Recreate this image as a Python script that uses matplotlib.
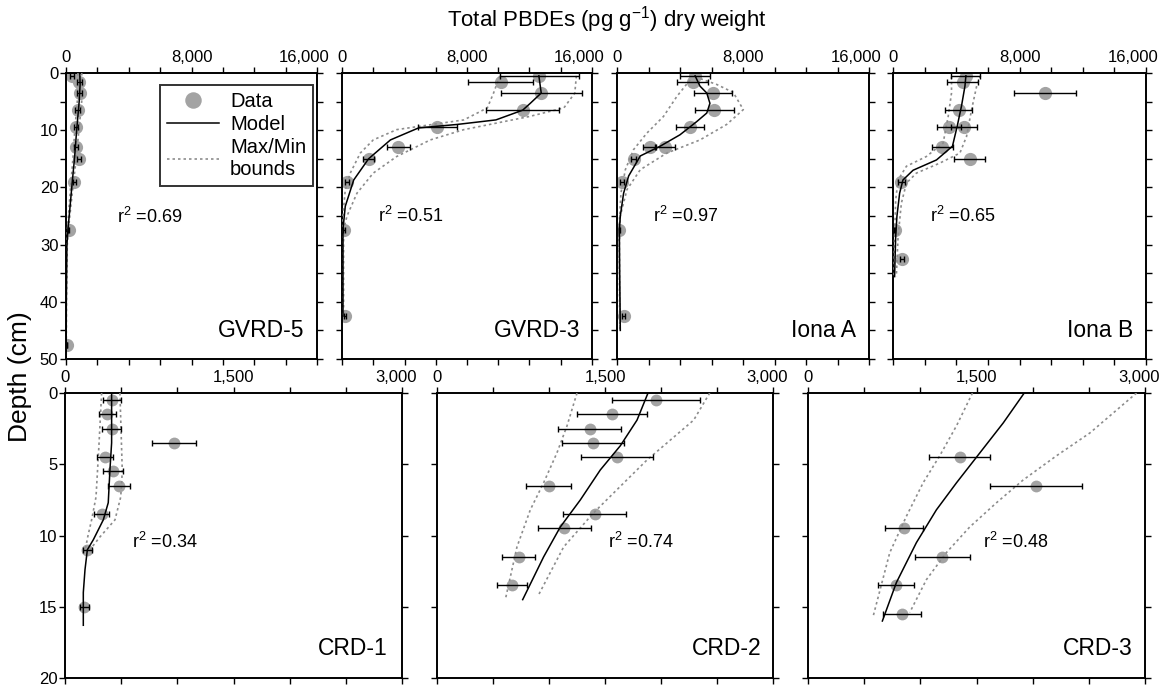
import matplotlib
matplotlib.use("Agg")
import matplotlib.pyplot as plt
from matplotlib.ticker import MultipleLocator, FuncFormatter
from matplotlib.transforms import ScaledTranslation

plt.rcParams['font.family'] = ['Liberation Sans', 'DejaVu Sans']
plt.rcParams['mathtext.fontset'] = 'custom'
plt.rcParams['mathtext.rm'] = 'Liberation Sans'
plt.rcParams['mathtext.it'] = 'Liberation Sans'

# --- data: depth (cm), total PBDEs (pg/g dw) ---
gv5_depth = [0.5, 1.5, 3.5, 6.5, 9.5, 13, 15, 19, 27.5, 47.5]
gv5_conc = [380, 850, 870, 740, 620, 620, 830, 530, 170, 60]
gv5_err = [150, 150, 150, 150, 130, 130, 130, 100, 40, 20]
gv5_mod_d = [0, 2, 5, 10, 15, 19, 23, 27.5, 30, 40, 50]
gv5_mod_c = [880, 900, 840, 680, 540, 400, 270, 120, 60, 20, 10]
gv5_up_d = [0, 2, 5, 10, 15, 19, 23, 27.5, 30, 40, 50]
gv5_up_c = [1000, 1050, 1000, 820, 650, 480, 320, 150, 80, 30, 15]
gv5_lo_d = [0, 2, 5, 10, 15, 19, 23, 27.5, 30, 40, 50]
gv5_lo_c = [760, 780, 720, 560, 440, 320, 210, 90, 40, 10, 5]

gv3_depth = [0.5, 1.5, 3.5, 6.5, 9.5, 13, 15, 19, 27.5, 42.5]
gv3_conc = [12640, 10170, 12750, 11560, 6100, 3600, 1700, 320, 100, 170]
gv3_err = [2550, 2080, 2580, 2350, 1230, 750, 340, 120, 60, 60]
gv3_mod_d = [0.5, 3.5, 5.3, 6.5, 8.2, 9.0, 9.6, 11.7, 15, 18.7, 23.3, 27.4, 42.5]
gv3_mod_c = [12600, 12750, 12050, 11560, 9850, 7350, 4900, 3100, 1700, 750, 210, 60, 60]
gv3_up_d = [0.5, 3.5, 6.1, 7.6, 9.9, 11.7, 14.6, 17.5, 21, 25, 27.4, 42.5]
gv3_up_c = [15000, 14900, 14200, 12000, 7800, 5650, 3500, 2000, 960, 320, 100, 100]
gv3_lo_d = [0.5, 3.5, 6.1, 8.2, 9.9, 11.7, 14, 17.5, 20.4, 25, 42.5]
gv3_lo_c = [10100, 9700, 9300, 7800, 3500, 2000, 1170, 530, 210, 60, 40]

iaa_depth = [0.5, 1.5, 3.5, 6.5, 9.5, 13, 13, 15, 19, 27.5, 42.5]
iaa_conc = [4960, 4810, 6120, 6180, 4640, 2070, 3060, 1050, 320, 150, 420]
iaa_err = [970, 970, 1210, 1220, 910, 420, 630, 150, 100, 50, 100]
iaa_mod_d = [0.5, 2.3, 3.5, 5.3, 7, 8.5, 10.8, 12.8, 14.5, 18, 21, 25, 27.5, 35, 45]
iaa_mod_c = [4960, 5270, 5700, 5900, 5700, 5060, 4000, 2740, 1480, 740, 420, 210, 150, 170, 210]
iaa_up_d = [1, 2, 3.4, 6.4, 9, 11.7, 14, 16.9, 20.4, 25, 30, 45]
iaa_up_c = [5300, 6330, 7380, 8020, 6960, 5270, 3160, 1480, 630, 210, 150, 200]
iaa_lo_d = [1.2, 4.1, 7.6, 10.5, 13.4, 16.9, 21, 27.5, 45]
iaa_lo_c = [4640, 3800, 2950, 1900, 1050, 530, 250, 120, 180]

iab_depth = [0.5, 1.5, 3.5, 6.5, 9.5, 9.5, 13, 15, 19, 27.5, 32.5]
iab_conc = [4610, 4400, 9620, 4160, 3550, 4500, 3130, 4860, 530, 100, 570]
iab_err = [920, 1000, 1960, 850, 740, 830, 680, 980, 200, 40, 120]
iab_mod_d = [0.5, 2.3, 5.8, 9.3, 12.8, 15.2, 17, 18.7, 21, 25, 28.6, 35.6]
iab_mod_c = [4610, 4550, 4330, 4060, 3760, 2750, 1270, 630, 420, 250, 170, 100]
iab_up_d = [0.5, 2.3, 6.4, 11.1, 14, 15.75, 17.5, 19.25, 22.75, 28.6, 35.6]
iab_up_c = [5540, 5290, 4970, 4650, 4230, 2960, 1480, 850, 530, 320, 210]
iab_lo_d = [0.6, 3.5, 7.6, 12.25, 14.6, 16.3, 18.7, 22.2, 28.6, 35.6]
iab_lo_c = [3700, 3700, 3490, 3170, 2110, 850, 320, 170, 100, 60]

crd1_depth = [0.5, 1.5, 2.5, 3.5, 4.5, 5.5, 6.5, 8.5, 11, 15]
crd1_conc = [415, 376, 415, 970, 356, 430, 483, 326, 199, 172]
crd1_err = [80, 75, 85, 197, 74, 90, 100, 67, 42, 42]
crd1_mod_d = [0, 3.5, 5.4, 7.7, 8.9, 10.3, 11, 12.4, 14, 16.3]
crd1_mod_c = [415, 415, 400, 385, 341, 252, 199, 178, 163, 163]
crd1_up_d = [0, 5.5, 7.3, 8.9, 10.1, 11]
crd1_up_c = [489, 510, 496, 445, 311, 222]
crd1_lo_d = [0, 4, 7.3, 8.9, 10, 11]
crd1_lo_c = [326, 300, 276, 237, 205, 180]

crd2_depth = [0.5, 1.5, 2.5, 3.5, 4.5, 6.5, 8.5, 9.5, 11.5, 13.5]
crd2_conc = [1955, 1562, 1363, 1393, 1607, 997, 1408, 1137, 729, 670]
crd2_err = [395, 315, 280, 280, 323, 200, 283, 234, 150, 137]
crd2_mod_d = [0, 1.9, 3.7, 5.4, 7.5, 9.4, 11.5, 14.5]
crd2_mod_c = [1884, 1786, 1637, 1458, 1280, 1101, 952, 765]
crd2_up_d = [0, 1.9, 3.5, 4.7, 6.55, 8.4, 10.8, 14.15]
crd2_up_c = [2435, 2292, 2054, 1875, 1637, 1399, 1131, 908]
crd2_lo_d = [0, 2.3, 4.2, 6.3, 8.2, 10.8, 14.5]
crd2_lo_c = [1250, 1161, 1071, 952, 833, 714, 610]

crd3_depth = [4.5, 6.5, 9.5, 11.5, 13.5, 15.5]
crd3_conc = [1351, 2028, 855, 1194, 781, 840]
crd3_err = [270, 408, 171, 245, 159, 168]
crd3_mod_d = [0, 2.1, 4.2, 6.3, 8.2, 10.5, 13.3, 16]
crd3_mod_c = [1925, 1738, 1530, 1322, 1143, 965, 787, 662]
crd3_up_d = [0, 1.2, 2.8, 4.4, 6.1, 7.7, 9.4, 11.2, 13.1, 15.4]
crd3_up_c = [2925, 2747, 2510, 2213, 1916, 1678, 1440, 1232, 1054, 906]
crd3_lo_d = [0, 2.3, 4.4, 6.3, 8.65, 11.2, 15.7]
crd3_lo_c = [1464, 1322, 1173, 1025, 876, 728, 579]

names = ["GVRD-5", "GVRD-3", "Iona A", "Iona B", "CRD-1", "CRD-2", "CRD-3"]
r2_labels = ["0.69", "0.51", "0.97", "0.65", "0.34", "0.74", "0.48"]

W, H = 1163, 685
fig = plt.figure(figsize=(W / 100, H / 100), dpi=100)

def px_axes(x0, y0, x1, y1):
    return fig.add_axes([x0 / W, 1 - y1 / H, (x1 - x0) / W, (y1 - y0) / H])

# panel boxes in pixels (left, top, right, bottom)
boxes = [(66, 73, 317, 359), (342, 73, 592, 359), (617, 73, 869, 359), (893, 73, 1146, 359),
         (65, 393, 402, 678), (437, 393, 773, 678), (808, 393, 1145, 678)]

panels = [
    (gv5_depth, gv5_conc, gv5_err, gv5_mod_d, gv5_mod_c, gv5_up_d, gv5_up_c, gv5_lo_d, gv5_lo_c),
    (gv3_depth, gv3_conc, gv3_err, gv3_mod_d, gv3_mod_c, gv3_up_d, gv3_up_c, gv3_lo_d, gv3_lo_c),
    (iaa_depth, iaa_conc, iaa_err, iaa_mod_d, iaa_mod_c, iaa_up_d, iaa_up_c, iaa_lo_d, iaa_lo_c),
    (iab_depth, iab_conc, iab_err, iab_mod_d, iab_mod_c, iab_up_d, iab_up_c, iab_lo_d, iab_lo_c),
    (crd1_depth, crd1_conc, crd1_err, crd1_mod_d, crd1_mod_c, crd1_up_d, crd1_up_c, crd1_lo_d, crd1_lo_c),
    (crd2_depth, crd2_conc, crd2_err, crd2_mod_d, crd2_mod_c, crd2_up_d, crd2_up_c, crd2_lo_d, crd2_lo_c),
    (crd3_depth, crd3_conc, crd3_err, crd3_mod_d, crd3_mod_c, crd3_up_d, crd3_up_c, crd3_lo_d, crd3_lo_c),
]

# r2 text position (data coords) and label x (axes fraction)
r2_pos = [(3250, 25.2), (2300, 25), (2290, 25), (2340, 25),
          (596, 10.45), (1527, 10.45), (1558, 10.45)]
name_x = [0.948, 0.952, 0.948, 0.949, 0.958, 0.967, 0.964]

comma = FuncFormatter(lambda v, p: f"{int(v):,}")
gray = '#a3a3a3'
axes = []

for i, (box, data) in enumerate(zip(boxes, panels)):
    depth, conc, err, md, mc, ud, uc, ld, lc = data
    ax = px_axes(*box)
    axes.append(ax)
    top = i < 4
    ms = 9.5 if top else 8.5
    h_data, = ax.plot(conc, depth, 'o', color=gray, ms=ms, mec='none', zorder=2, label='Data')
    h_up, = ax.plot(uc, ud, color='#8c8c8c', lw=1.2, ls=(0, (1.5, 1.8)), zorder=3,
                    label='Max/Min\nbounds')
    ax.plot(lc, ld, color='#8c8c8c', lw=1.2, ls=(0, (1.5, 1.8)), zorder=3)
    h_mod, = ax.plot(mc, md, color='black', lw=1.1, zorder=4, label='Model')
    ax.errorbar(conc, depth, xerr=err, fmt='none', ecolor='black', elinewidth=1.0,
                capsize=2.5, capthick=1.0, zorder=5)

    if top:
        ax.set_xlim(0, 16000)
        ax.set_ylim(50, 0)
        ax.xaxis.set_major_locator(MultipleLocator(8000))
        ax.xaxis.set_minor_locator(MultipleLocator(2000))
        ax.yaxis.set_major_locator(MultipleLocator(10))
        ax.yaxis.set_minor_locator(MultipleLocator(5))
        name_y = 0.10
    else:
        ax.set_xlim(0, 3000)
        ax.set_ylim(20, 0)
        ax.xaxis.set_major_locator(MultipleLocator(1500))
        ax.xaxis.set_minor_locator(MultipleLocator(500))
        ax.yaxis.set_major_locator(MultipleLocator(5))
        name_y = 0.105
    ax.xaxis.set_major_formatter(comma)
    ax.tick_params(which='both', direction='out', top=True, bottom=True, left=True, right=True,
                   labeltop=True, labelbottom=False, labelleft=(i in (0, 4)),
                   labelsize=12, length=4, width=1, pad=1.5)
    ax.tick_params(which='minor', length=4)
    for s in ax.spines.values():
        s.set_linewidth(1.4)

    ax.text(*r2_pos[i], r"r$^{2}$ =" + r2_labels[i], fontsize=13, ha='left', va='center')
    ax.text(name_x[i], name_y, names[i], transform=ax.transAxes, fontsize=16.5,
            ha='right', va='center')

    if i == 0:
        leg = ax.legend(handles=[h_data, h_mod, h_up], loc='upper right',
                        bbox_to_anchor=(0.985, 0.958), fontsize=14.5, frameon=True,
                        fancybox=False, edgecolor='black', handlelength=2.6,
                        handletextpad=0.55, borderpad=0.35, labelspacing=0.2,
                        borderaxespad=0.0, markerscale=1.25)
        leg.get_frame().set_linewidth(1.4)

fig.text(607 / W, 1 - 20 / H, r"Total PBDEs (pg g$^{-1}$) dry weight", fontsize=16,
         ha='center', va='center')
fig.text(20 / W, 1 - 377 / H, "Depth (cm)", fontsize=19, rotation=90,
         ha='center', va='center')

# the last top-axis label of each panel sits a little left of its tick
fig.canvas.draw()
for i, ax in enumerate(axes):
    shift = -13 if i < 4 else -6
    xmax = ax.get_xlim()[1]
    for tick in ax.xaxis.get_major_ticks():
        if abs(tick.get_loc() - xmax) < 1e-6:
            lab = tick.label2
            lab.set_transform(lab.get_transform() + ScaledTranslation(shift / 100, 0, fig.dpi_scale_trans))

fig.savefig("out.png", dpi=100)
